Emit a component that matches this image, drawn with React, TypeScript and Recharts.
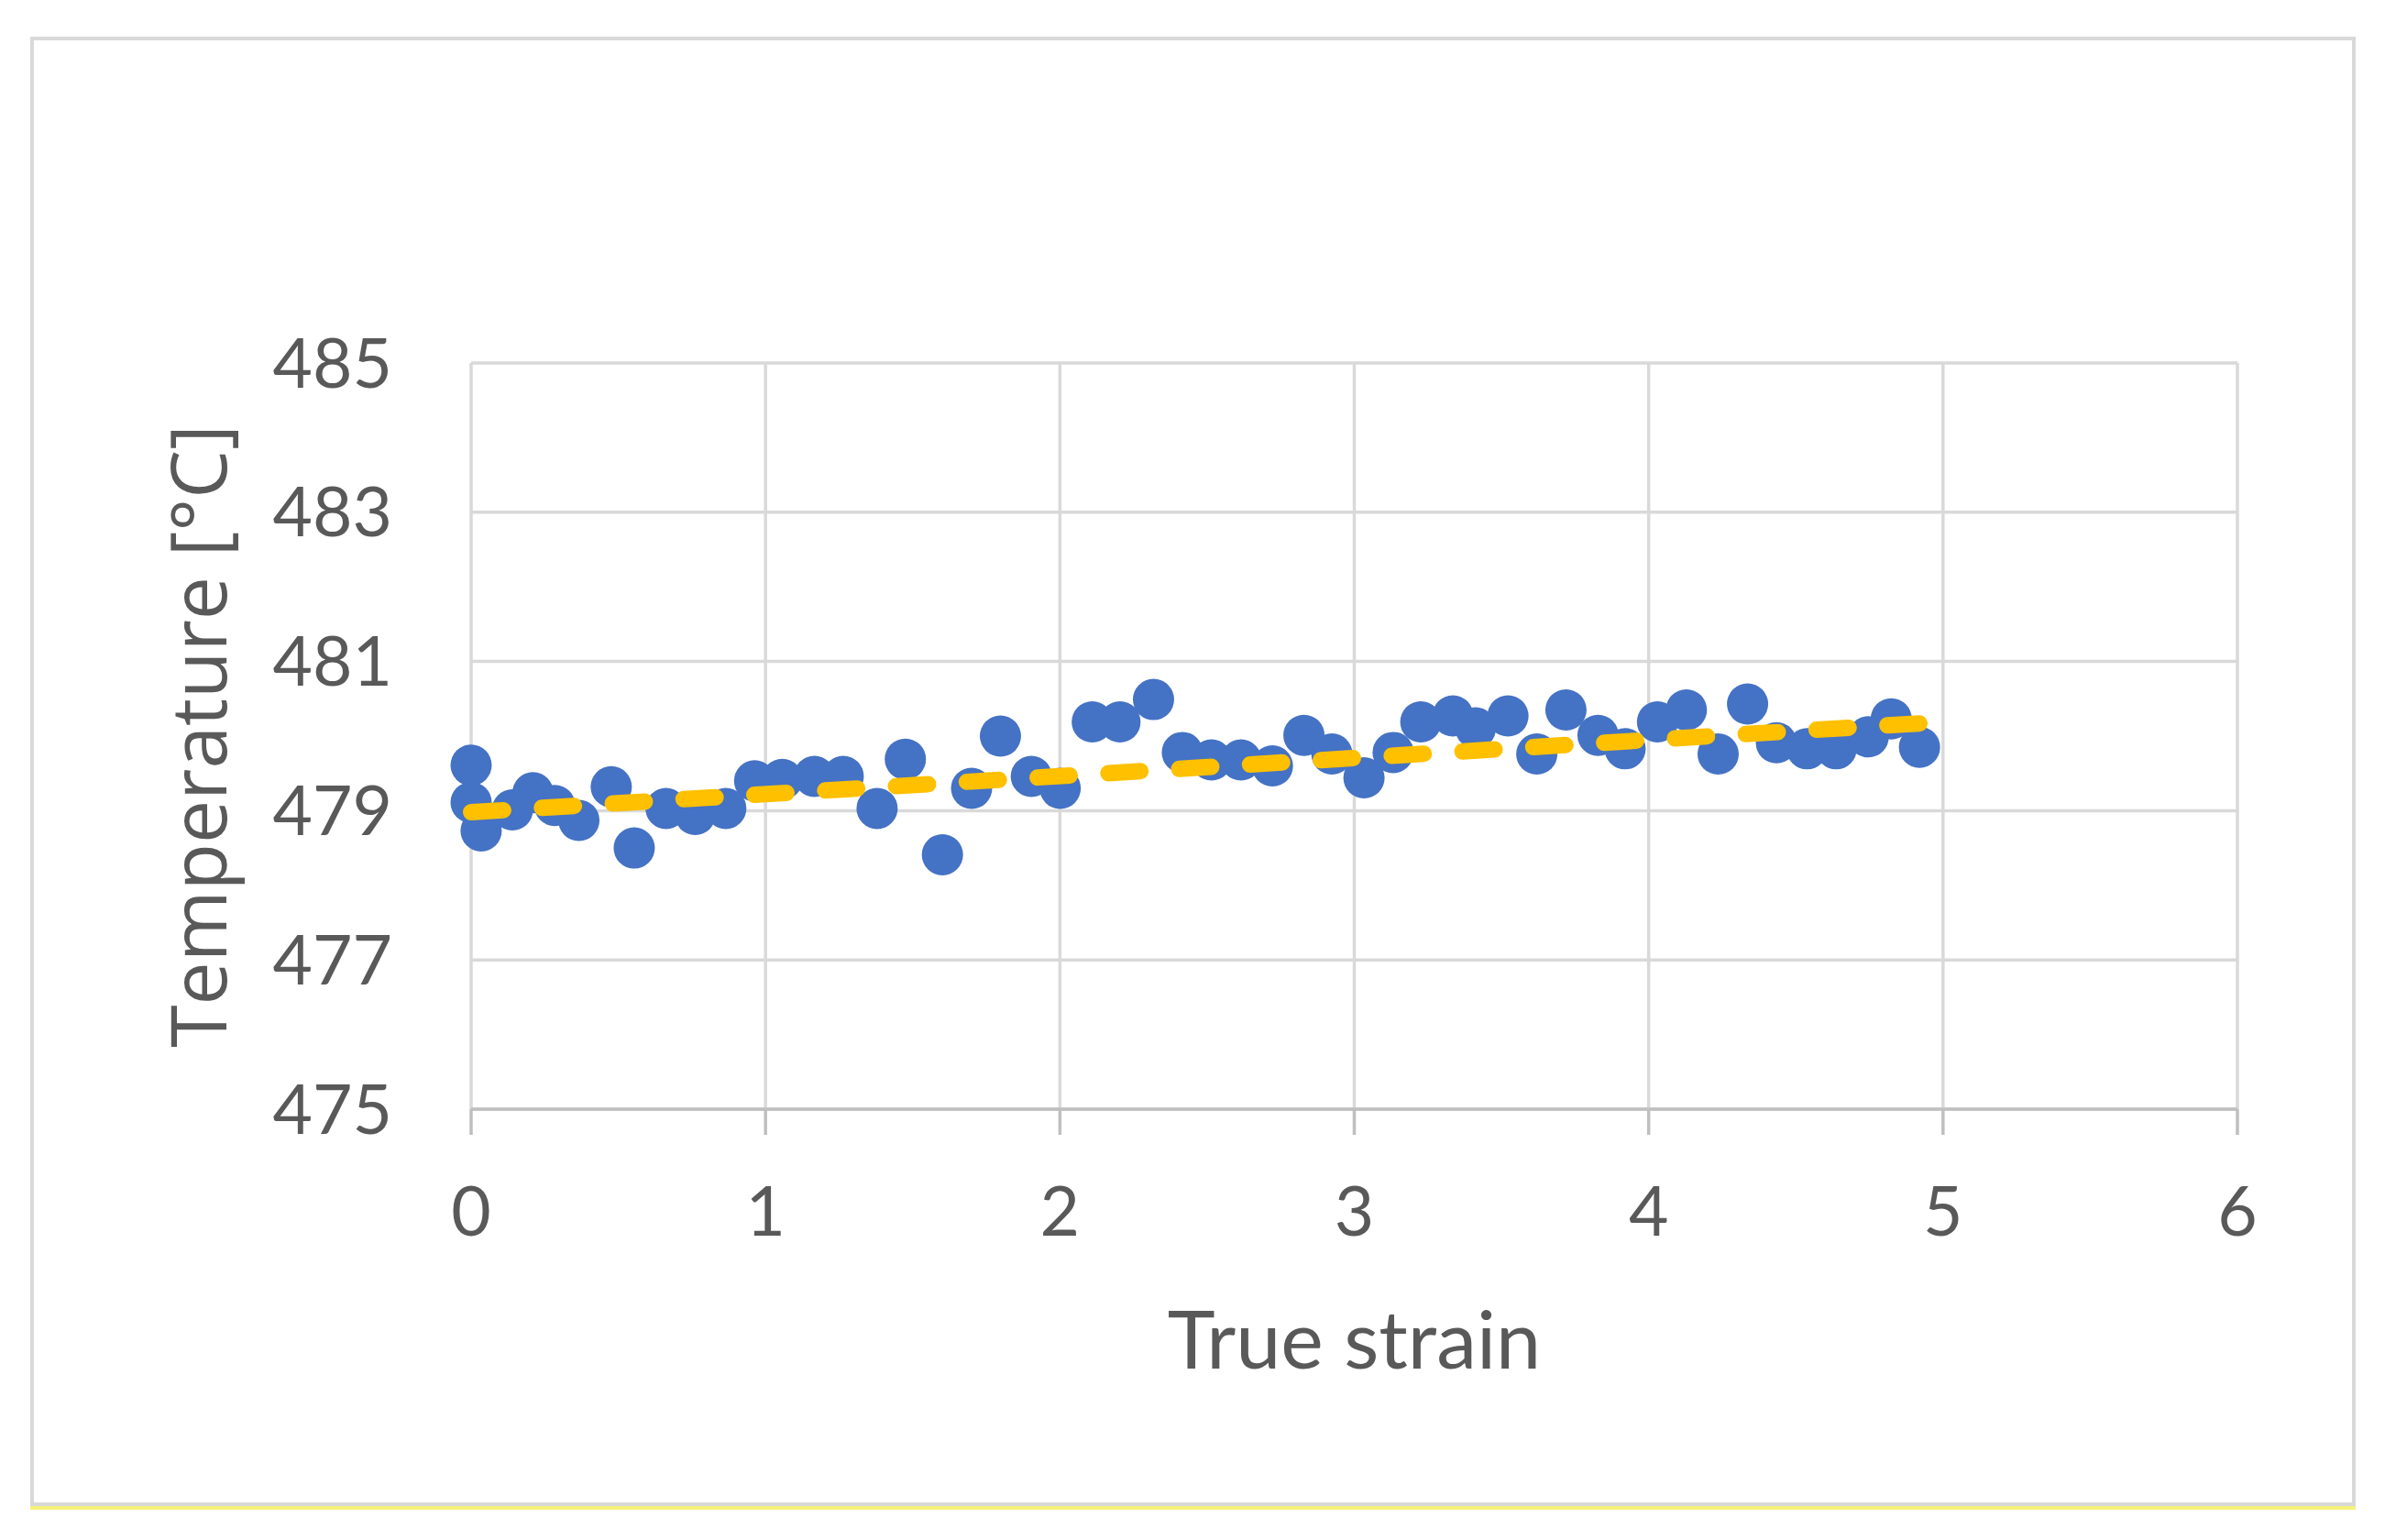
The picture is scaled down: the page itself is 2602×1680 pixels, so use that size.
import React from 'react';
import { ComposedChart, Scatter, Line, XAxis, YAxis, CartesianGrid, Label } from 'recharts';

const strain = [
  0, 0, 0.034, 0.14, 0.21, 0.284, 0.366, 0.476, 0.554, 0.662, 0.761, 0.865, 0.963,
  1.057, 1.166, 1.264, 1.379, 1.475, 1.601, 1.7, 1.798, 1.903, 2.001, 2.11, 2.204,
  2.318, 2.416, 2.515, 2.615, 2.722, 2.829, 2.924, 3.033, 3.132, 3.226, 3.335, 3.412,
  3.522, 3.62, 3.719, 3.828, 3.92, 4.03, 4.128, 4.236, 4.336, 4.434, 4.538, 4.637,
  4.746, 4.824, 4.92,
];
const temperature = [
  479.61, 479.11, 478.73, 479.01, 479.24, 479.07, 478.87, 479.32, 478.5, 479.03, 478.95,
  479.03, 479.4, 479.42, 479.46, 479.46, 479.03, 479.69, 478.41, 479.3, 480.0, 479.46,
  479.3, 480.19, 480.19, 480.49, 479.78, 479.68, 479.68, 479.6, 480.01, 479.76, 479.44,
  479.78, 480.19, 480.27, 480.11, 480.27, 479.76, 480.35, 480.01, 479.83, 480.19, 480.35,
  479.76, 480.43, 479.91, 479.83, 479.83, 479.99, 480.23, 479.85,
];
const trendStrain = [0, 4.92];
const trendTemperature = [478.98, 480.17];
const xTicks = [0, 1, 2, 3, 4, 5, 6];
const yTicks = [475, 477, 479, 481, 483, 485];
const xTitle = 'True strain';
const yTitle = 'Temperature [°C]';

const points = strain.map((x, i) => ({ x, y: temperature[i] }));
const trend = trendStrain.map((x, i) => ({ x, y: trendTemperature[i] }));

const TEXT = '#595959';
const GRID = '#d9d9d9';
const AXIS = '#bfbfbf';

const tickStyle = { fill: TEXT, fontSize: 75, fontFamily: 'Lato' };

const Dot = (props: any) => {
  if (props.cx == null || props.cy == null) return null;
  return <circle cx={props.cx} cy={props.cy} r={22.5} fill="#4472C4" />;
};

const XTitle = (props: any) => {
  const vb = props.viewBox || {};
  return (
    <text
      x={vb.x + vb.width / 2}
      y={vb.y + 283}
      textAnchor="middle"
      fill={TEXT}
      fontSize={88}
      fontFamily="Lato"
    >
      {xTitle}
    </text>
  );
};

const YTitle = (props: any) => {
  const vb = props.viewBox || {};
  const x = 247;
  const y = vb.y + vb.height / 2;
  return (
    <text
      x={x}
      y={y}
      transform={`rotate(-90, ${x}, ${y})`}
      textAnchor="middle"
      fill={TEXT}
      fontSize={84}
      fontFamily="Open Sans"
    >
      {yTitle}
    </text>
  );
};

export default function App() {
  return (
    <div style={{ position: 'absolute', left: 0, top: 0, width: 2602, height: 1680, background: '#fff' }}>
      <div
        style={{
          position: 'absolute',
          left: 33,
          top: 40,
          width: 2537,
          height: 1603,
          border: '4px solid #d9d9d9',
          boxSizing: 'border-box',
        }}
      />
      <div style={{ position: 'absolute', left: 33, top: 1643, width: 2537, height: 4, background: '#f6f27a' }} />
      <div style={{ position: 'absolute', left: 0, top: 0 }}>
        <ComposedChart
          width={2602}
          height={1680}
          data={points}
          margin={{ top: 396, right: 161, bottom: 270, left: 0 }}
        >
          <CartesianGrid stroke={GRID} strokeWidth={3.5} />
          <XAxis
            dataKey="x"
            type="number"
            domain={[0, 6]}
            ticks={xTicks}
            height={200}
            tick={tickStyle}
            tickSize={28}
            tickMargin={57}
            axisLine={{ stroke: AXIS, strokeWidth: 3.5 }}
            tickLine={{ stroke: AXIS, strokeWidth: 3.5 }}
          >
            <Label content={XTitle} />
          </XAxis>
          <YAxis
            dataKey="y"
            type="number"
            domain={[475, 485]}
            ticks={yTicks}
            width={514}
            tick={tickStyle}
            tickSize={0}
            tickMargin={86}
            axisLine={false}
            tickLine={false}
          >
            <Label content={YTitle} />
          </YAxis>
          <Scatter data={points} dataKey="y" shape={Dot} isAnimationActive={false} />
          <Line
            data={trend}
            dataKey="y"
            type="linear"
            stroke="#FFC000"
            strokeWidth={18}
            strokeDasharray="35 42.4"
            strokeLinecap="round"
            dot={false}
            activeDot={false}
            isAnimationActive={false}
            zIndex={700}
          />
        </ComposedChart>
      </div>
    </div>
  );
}
